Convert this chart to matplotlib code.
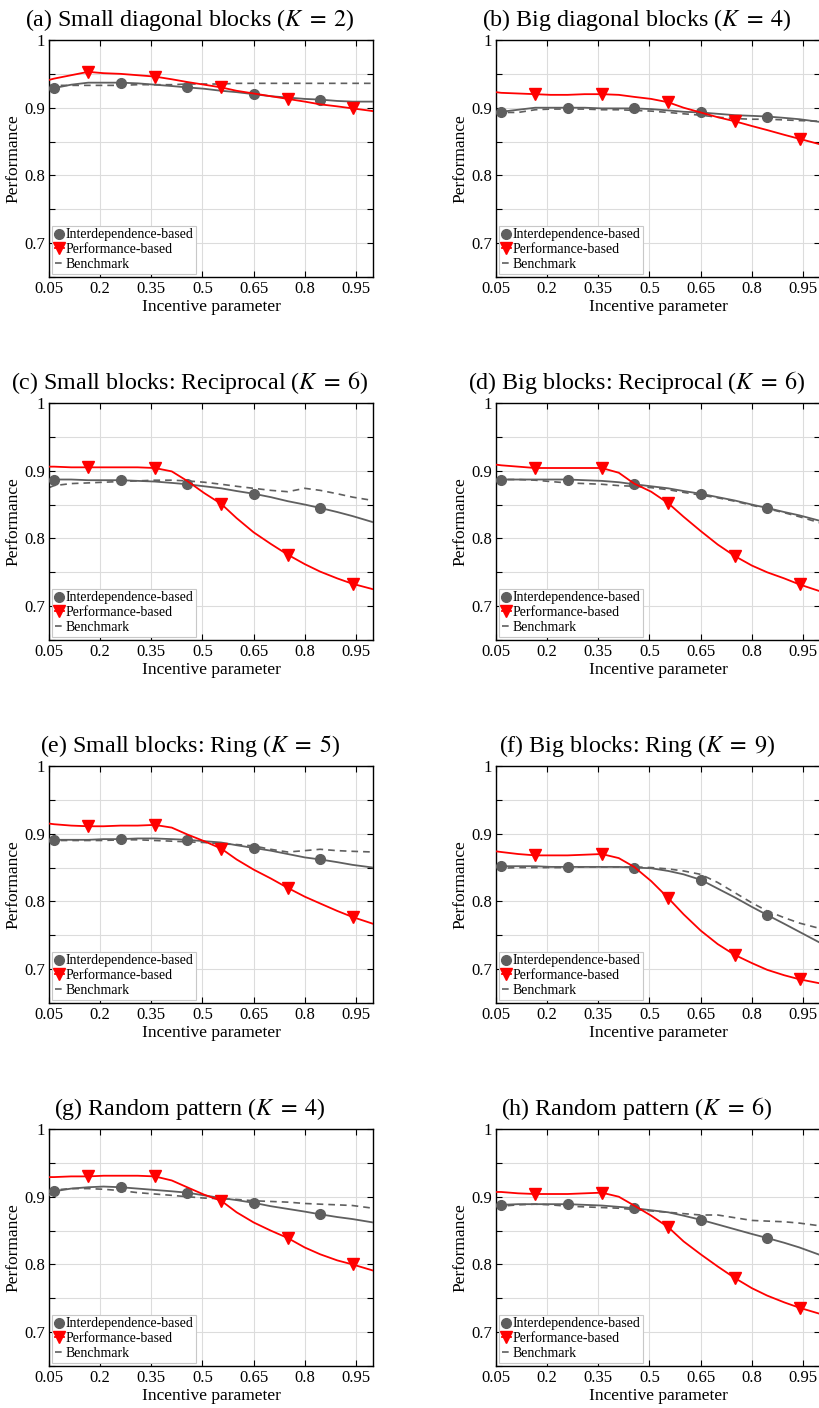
import numpy as np
import matplotlib
matplotlib.use('Agg')
from matplotlib import pyplot as plt
from matplotlib.lines import Line2D
from matplotlib.ticker import FuncFormatter

plt.rcParams['font.family'] = ['Liberation Serif', 'DejaVu Serif']
plt.rcParams['mathtext.fontset'] = 'stix'
plt.rcParams['xtick.direction'] = 'in'
plt.rcParams['ytick.direction'] = 'in'
plt.rcParams['xtick.top'] = True
plt.rcParams['ytick.right'] = True

# incentive parameter grid (markers sit on every 4th point)
x = [0.05, 0.065, 0.115, 0.165, 0.21, 0.26, 0.31, 0.36, 0.41, 0.455, 0.505,
     0.555, 0.6, 0.65, 0.7, 0.75, 0.8, 0.845, 0.895, 0.94, 1.0]
idx_circle = [1, 5, 9, 13, 17]
idx_tri = [3, 7, 11, 15, 19]

titles = [r'(a) Small diagonal blocks ($K\;=\;2$)', r'(b) Big diagonal blocks ($K\;=\;4$)',
          r'(c) Small blocks: Reciprocal ($K\;=\;6$)', r'(d) Big blocks: Reciprocal ($K\;=\;6$)',
          r'(e) Small blocks: Ring ($K\;=\;5$)', r'(f) Big blocks: Ring ($K\;=\;9$)',
          r'(g) Random pattern ($K\;=\;4$)', r'(h) Random pattern ($K\;=\;6$)']

inter_a = [0.928, 0.929, 0.934, 0.937, 0.937, 0.937, 0.936, 0.934, 0.932, 0.930, 0.928,
           0.925, 0.923, 0.920, 0.917, 0.915, 0.913, 0.912, 0.910, 0.909, 0.909]
perf_a = [0.941, 0.943, 0.948, 0.953, 0.951, 0.950, 0.948, 0.946, 0.942, 0.938, 0.934,
          0.930, 0.925, 0.921, 0.917, 0.913, 0.909, 0.905, 0.902, 0.899, 0.895]
bench_a = [0.933, 0.933, 0.933, 0.933, 0.933, 0.933, 0.934, 0.934, 0.934, 0.935, 0.935,
           0.935, 0.936, 0.936, 0.936, 0.936, 0.936, 0.936, 0.936, 0.936, 0.936]

inter_b = [0.894, 0.894, 0.897, 0.900, 0.900, 0.900, 0.900, 0.899, 0.899, 0.899, 0.898,
           0.896, 0.894, 0.893, 0.891, 0.889, 0.888, 0.887, 0.885, 0.883, 0.879]
perf_b = [0.923, 0.922, 0.921, 0.920, 0.919, 0.919, 0.920, 0.920, 0.919, 0.916, 0.913,
          0.908, 0.900, 0.893, 0.886, 0.880, 0.873, 0.867, 0.860, 0.854, 0.846]
bench_b = [0.893, 0.893, 0.893, 0.897, 0.898, 0.898, 0.898, 0.897, 0.897, 0.896, 0.895,
           0.893, 0.891, 0.889, 0.886, 0.884, 0.883, 0.883, 0.882, 0.881, 0.880]

inter_c = [0.887, 0.887, 0.887, 0.886, 0.886, 0.886, 0.885, 0.884, 0.882, 0.880, 0.877,
           0.874, 0.870, 0.866, 0.861, 0.855, 0.850, 0.845, 0.839, 0.833, 0.824]
perf_c = [0.906, 0.906, 0.905, 0.905, 0.905, 0.905, 0.905, 0.904, 0.899, 0.885, 0.867,
          0.851, 0.830, 0.809, 0.792, 0.776, 0.762, 0.751, 0.741, 0.733, 0.725]
bench_c = [0.875, 0.878, 0.881, 0.882, 0.883, 0.884, 0.885, 0.886, 0.886, 0.885, 0.883,
           0.880, 0.877, 0.874, 0.871, 0.869, 0.874, 0.871, 0.866, 0.861, 0.856]

inter_d = [0.887, 0.887, 0.887, 0.887, 0.887, 0.887, 0.886, 0.885, 0.883, 0.880, 0.877,
           0.874, 0.870, 0.866, 0.861, 0.856, 0.850, 0.845, 0.839, 0.834, 0.826]
perf_d = [0.909, 0.908, 0.906, 0.904, 0.904, 0.904, 0.904, 0.904, 0.897, 0.881, 0.869,
          0.852, 0.832, 0.811, 0.791, 0.774, 0.760, 0.750, 0.741, 0.732, 0.722]
bench_d = [0.887, 0.887, 0.887, 0.886, 0.884, 0.882, 0.881, 0.880, 0.878, 0.877, 0.875,
           0.872, 0.868, 0.864, 0.860, 0.855, 0.849, 0.844, 0.838, 0.832, 0.823]

inter_e = [0.891, 0.891, 0.891, 0.891, 0.892, 0.892, 0.893, 0.893, 0.892, 0.891, 0.889,
           0.887, 0.883, 0.879, 0.875, 0.870, 0.865, 0.862, 0.858, 0.854, 0.850]
perf_e = [0.915, 0.914, 0.912, 0.911, 0.911, 0.912, 0.912, 0.913, 0.909, 0.899, 0.889,
          0.878, 0.862, 0.847, 0.834, 0.820, 0.807, 0.797, 0.786, 0.777, 0.767]
bench_e = [0.890, 0.890, 0.890, 0.890, 0.890, 0.891, 0.891, 0.890, 0.889, 0.888, 0.887,
           0.885, 0.884, 0.882, 0.877, 0.873, 0.875, 0.877, 0.875, 0.874, 0.873]

inter_f = [0.852, 0.852, 0.852, 0.852, 0.851, 0.851, 0.851, 0.851, 0.851, 0.850, 0.849,
           0.845, 0.840, 0.832, 0.819, 0.806, 0.792, 0.780, 0.767, 0.755, 0.739]
perf_f = [0.874, 0.873, 0.870, 0.868, 0.868, 0.868, 0.869, 0.870, 0.864, 0.851, 0.830,
          0.805, 0.781, 0.757, 0.737, 0.721, 0.709, 0.699, 0.691, 0.685, 0.679]
bench_f = [0.849, 0.849, 0.850, 0.850, 0.850, 0.850, 0.851, 0.851, 0.851, 0.851, 0.850,
           0.848, 0.845, 0.840, 0.828, 0.813, 0.798, 0.786, 0.776, 0.768, 0.760]

inter_g = [0.902, 0.908, 0.912, 0.914, 0.915, 0.914, 0.912, 0.910, 0.908, 0.906, 0.902,
           0.898, 0.895, 0.891, 0.886, 0.882, 0.878, 0.874, 0.870, 0.867, 0.862]
perf_g = [0.929, 0.929, 0.930, 0.930, 0.931, 0.931, 0.931, 0.930, 0.924, 0.914, 0.903,
          0.894, 0.877, 0.862, 0.850, 0.839, 0.825, 0.815, 0.806, 0.800, 0.791]
bench_g = [0.909, 0.910, 0.912, 0.912, 0.911, 0.909, 0.906, 0.904, 0.902, 0.900, 0.898,
           0.897, 0.896, 0.894, 0.893, 0.892, 0.890, 0.889, 0.888, 0.887, 0.883]

inter_h = [0.888, 0.888, 0.889, 0.889, 0.889, 0.889, 0.888, 0.887, 0.885, 0.883, 0.880,
           0.877, 0.872, 0.866, 0.859, 0.852, 0.845, 0.839, 0.832, 0.825, 0.814]
perf_h = [0.907, 0.907, 0.905, 0.904, 0.904, 0.904, 0.905, 0.906, 0.900, 0.887, 0.872,
          0.855, 0.834, 0.815, 0.797, 0.780, 0.765, 0.754, 0.744, 0.736, 0.727]
bench_h = [0.885, 0.886, 0.888, 0.889, 0.888, 0.886, 0.885, 0.884, 0.883, 0.881, 0.879,
           0.877, 0.875, 0.873, 0.873, 0.869, 0.865, 0.864, 0.863, 0.861, 0.857]

inter_all = [inter_a, inter_b, inter_c, inter_d, inter_e, inter_f, inter_g, inter_h]
perf_all = [perf_a, perf_b, perf_c, perf_d, perf_e, perf_f, perf_g, perf_h]
bench_all = [bench_a, bench_b, bench_c, bench_d, bench_e, bench_f, bench_g, bench_h]

xticks = [0.05, 0.2, 0.35, 0.5, 0.65, 0.8, 0.95]
xticklabels = ['0.05', '0.2', '0.35', '0.5', '0.65', '0.8', '0.95']
yticks = [0.65, 0.7, 0.75, 0.8, 0.85, 0.9, 0.95, 1.0]

GRAY = '#5f5f5f'
RED = '#ff0000'

W, H = 820, 1408
fig = plt.figure(figsize=(W / 100, H / 100), dpi=100)

col_left = [49, 496]
row_top = [40, 403, 766, 1129]
aw, ah = 324, 237


def ylab(v, pos):
    if abs(v - 1.0) < 1e-6:
        return '1'
    if abs(round(v * 10) - v * 10) < 1e-6 and v > 0.66:
        return '%.1f' % v
    return ''


for i in range(8):
    r, c = i // 2, i % 2
    ax = fig.add_axes([col_left[c] / W, 1 - (row_top[r] + ah) / H, aw / W, ah / H])
    xs = np.array(x)
    ax.plot(xs, bench_all[i], '--', color=GRAY, lw=1.2, dashes=(4, 3), zorder=2)
    ax.plot(xs, inter_all[i], '-', color=GRAY, lw=1.3, marker='o', ms=7,
            markevery=idx_circle, zorder=3)
    ax.plot(xs, perf_all[i], '-', color=RED, lw=1.3, marker='v', ms=8,
            markevery=idx_tri, zorder=4)

    ax.set_xlim(0.05, 1.0)
    ax.set_ylim(0.65, 1.0)
    ax.set_xticks(xticks)
    ax.set_xticklabels(xticklabels, fontsize=12)
    ax.set_yticks(yticks)
    ax.yaxis.set_major_formatter(FuncFormatter(ylab))
    ax.tick_params(labelsize=12, length=4.5, width=0.8, pad=3)
    ax.grid(True, color='#dcdcdc', lw=0.8, zorder=0)
    ax.set_axisbelow(True)
    for s in ax.spines.values():
        s.set_linewidth(1.0)
    ax.set_xlabel('Incentive parameter', fontsize=12.5, labelpad=1)
    ax.set_ylabel('Performance', fontsize=12.5, labelpad=2)
    # title sits slightly left of the axes centre, as in the source figure
    ax.set_title(titles[i], fontsize=17.3, pad=10, x=0.435)

    handles = [Line2D([], [], color=GRAY, lw=1.3, marker='o', ms=7),
               Line2D([], [], color=RED, lw=1.3, marker='v', ms=8),
               Line2D([], [], color=GRAY, lw=1.2, ls='--', dashes=(4, 3))]
    leg = ax.legend(handles, ['Interdependence-based', 'Performance-based', 'Benchmark'],
                    loc='lower left', fontsize=10, handlelength=0.6, handletextpad=0.15,
                    labelspacing=0.12, borderpad=0.2, borderaxespad=0.25,
                    fancybox=False, framealpha=1, edgecolor='#c8c8c8')
    leg.get_frame().set_linewidth(0.8)

fig.savefig('out.png', dpi=100)
